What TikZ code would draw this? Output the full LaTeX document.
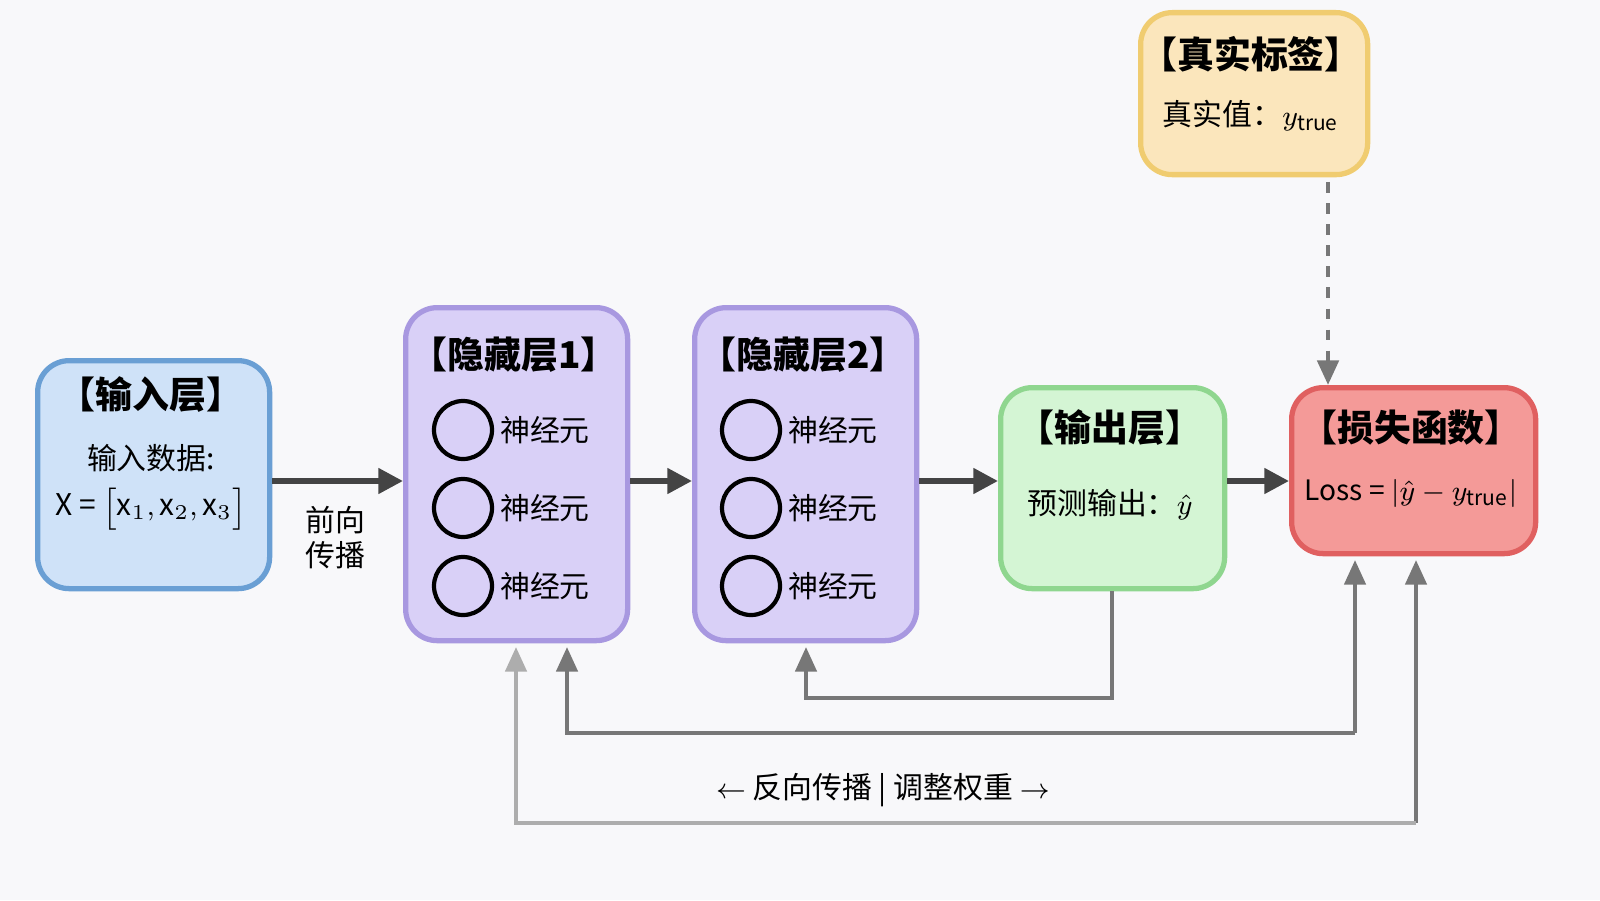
\documentclass[tikz,border=0pt]{standalone}
\usepackage{fontspec}
\setmainfont{Noto Sans CJK SC}
\usetikzlibrary{arrows.meta}
\definecolor{bg}{HTML}{F8F8FA}
\definecolor{bF}{HTML}{CFE2F8}\definecolor{bD}{HTML}{6A9FD4}
\definecolor{pF}{HTML}{D9D0F7}\definecolor{pD}{HTML}{A898E0}
\definecolor{gF}{HTML}{D4F5D4}\definecolor{gD}{HTML}{8FD68F}
\definecolor{rF}{HTML}{F49A98}\definecolor{rD}{HTML}{E06060}
\definecolor{yF}{HTML}{FBE6BC}\definecolor{yD}{HTML}{F0CC70}
\definecolor{ln}{HTML}{444444}
\definecolor{fb}{HTML}{777777}
\tikzset{
 box/.style={draw,line width=1.5pt,rounded corners=9pt,anchor=north west},
 ttl/.style={font=\fontsize{10.5}{12}\selectfont\bfseries},
 txt/.style={font=\fontsize{8.5}{10}\selectfont,inner sep=1pt},
 neu/.style={circle,draw,line width=1.2pt,minimum size=0.58cm,inner sep=0pt},
 fwd/.style={draw=ln,line width=1.6pt,-{Triangle[length=7pt,width=7pt]}},
 bwd/.style={draw=fb,line width=1.2pt,-{Triangle[length=7pt,width=6pt]}},
}
\begin{document}
\begin{tikzpicture}[x=1cm,y=1cm]
\fill[bg] (0,0) rectangle (16,9);
\useasboundingbox (0,0) rectangle (16,9);
% boxes
\node[box,fill=bF,draw=bD,minimum width=2.32cm,minimum height=2.28cm] (in) at (0.35,5.42) {};
\node[box,fill=pF,draw=pD,minimum width=2.22cm,minimum height=3.33cm] (h1) at (4.03,5.95) {};
\node[box,fill=pF,draw=pD,minimum width=2.22cm,minimum height=3.33cm] (h2) at (6.92,5.95) {};
\node[box,fill=gF,draw=gD,minimum width=2.24cm,minimum height=2.01cm] (out) at (9.98,5.15) {};
\node[box,fill=rF,draw=rD,minimum width=2.44cm,minimum height=1.66cm] (loss) at (12.89,5.15) {};
\node[box,fill=yF,draw=yD,minimum width=2.27cm,minimum height=1.62cm] (tr) at (11.38,8.90) {};
% texts
\node[ttl] (inT) at (1.51,5.05) {【输入层】};
\node[txt] (inA) at (1.51,4.42) {输入数据:};
\node[txt] (inB) at (1.51,3.92) {X = $\bigl[\mathrm{x}_1,\mathrm{x}_2,\mathrm{x}_3\bigr]$};
\node[ttl] (h1T) at (5.14,5.45) {【隐藏层1】};
\node[ttl] (h2T) at (8.03,5.45) {【隐藏层2】};
\foreach \n/\cx in {a/4.63,b/7.51}{
 \foreach \i/\cy in {1/4.70,2/3.92,3/3.14}{
  \node[neu] (c\n\i) at (\cx,\cy) {};
  \node[txt,anchor=west] (t\n\i) at (\cx+0.33,\cy) {神经元};
 }}
\node[ttl] (oT) at (11.10,4.72) {【输出层】};
\node[txt] (oA) at (11.10,3.95) {预测输出：$\hat{y}$};
\node[ttl] (lT) at (14.11,4.72) {【损失函数】};
\node[txt,font=\fontsize{8}{10}\selectfont] (lA) at (14.11,4.07) {Loss = $|\hat{y}-y_{\mathrm{true}}|$};
\node[ttl] (tT) at (12.51,8.46) {【真实标签】};
\node[txt] (tA) at (12.51,7.84) {真实值：$y_{\mathrm{true}}$};
\node[txt,align=center] (fw) at (3.35,3.62) {前向\\传播};
\node[txt] (bl) at (8.83,1.10) {$\leftarrow$ 反向传播 | 调整权重 $\rightarrow$};
% forward arrows
\coordinate (yl) at (0,4.19);
\draw[fwd] (in.east|-yl) -- (h1.west|-yl);
\draw[fwd] (h1.east|-yl) -- (h2.west|-yl);
\draw[fwd] (h2.east|-yl) -- (out.west|-yl);
\draw[fwd] (out.east|-yl) -- (loss.west|-yl);
\coordinate (d1) at (13.28,7.18);
\draw[draw=fb,line width=1.3pt,dashed,-{Triangle[length=7pt,width=6pt]}] (d1) -- (loss.north-|d1);
% backward
\coordinate (o1) at (11.12,2.02);
\draw[bwd] (out.south-|o1) -- (o1) -- (8.06,2.02) -- (8.06,2.53);
\draw[bwd] (13.55,1.67) -- (13.55,3.40);
\draw[bwd] (13.55,1.67) -- (5.67,1.67) -- (5.67,2.53);
\draw[bwd] (14.16,0.77) -- (14.16,3.40);
\draw[bwd,draw=fb!60] (14.16,0.77) -- (5.16,0.77) -- (5.16,2.53);
\end{tikzpicture}
\end{document}
